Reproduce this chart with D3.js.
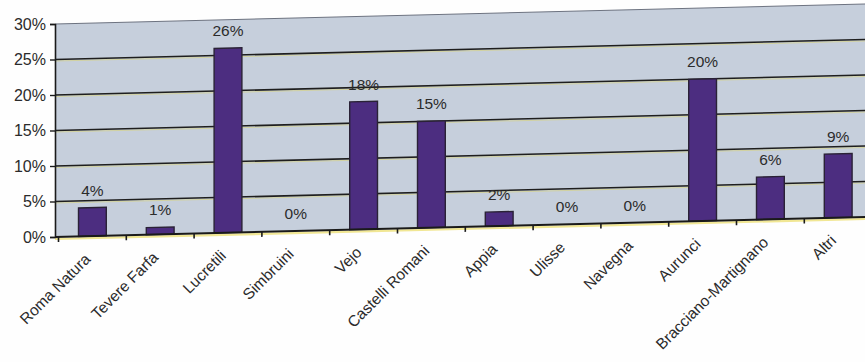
<!DOCTYPE html>
<html>
<head>
<meta charset="utf-8">
<script src="https://cdn.jsdelivr.net/npm/d3@7/dist/d3.min.js"></script>
<style>
  html, body { margin: 0; padding: 0; background: #fefefe; }
  svg { display: block; }
  text { font-family: "Liberation Sans", Arial, sans-serif; fill: #2b2b2b; }
</style>
</head>
<body>
<svg id="chart" width="865" height="362"></svg>
<script>
// Share of visitors by park area
const categories = ["Roma Natura", "Tevere Farfa", "Lucretili", "Simbruini", "Vejo", "Castelli Romani",
                    "Appia", "Ulisse", "Navegna", "Aurunci", "Bracciano-Martignano", "Altri"];
const values = [0.04, 0.01, 0.26, 0, 0.18, 0.15, 0.02, 0, 0, 0.20, 0.06, 0.09];
const valueLabels = ["4%", "1%", "26%", "0%", "18%", "15%", "2%", "0%", "0%", "20%", "6%", "9%"];
const yTicks = [0, 0.05, 0.10, 0.15, 0.20, 0.25, 0.30];

const svg = d3.select("#chart");
const originX = 55, originY = 237;   // bottom-left corner of the plot area
const plotW = 830, plotH = 213;
const slope = -0.0247;                // the whole plot leans slightly upward to the right
const skewDeg = Math.atan(slope) * 180 / Math.PI;

const x = d3.scaleBand().domain(categories).range([3.5, 3.5 + 12 * 67.8]).paddingInner(0).paddingOuter(0);
const y = d3.scaleLinear().domain([0, 0.30]).range([0, -plotH]);

// skewed plot coordinates -> page coordinates
const px = lx => originX + lx;
const py = (lx, ly) => originY + ly + slope * lx;

const plot = svg.append("g")
  .attr("transform", `translate(${originX},${originY}) skewY(${skewDeg})`);

plot.append("rect")
  .attr("x", 0).attr("y", y(0.30))
  .attr("width", plotW).attr("height", plotH)
  .attr("fill", "#c6cfdc");

// gridlines with a faint yellow fringe beneath them
const grid = yTicks.filter(t => t > 0 && t < 0.30);
plot.selectAll("line.fringe").data(grid).join("line")
  .attr("class", "fringe")
  .attr("x1", 0).attr("x2", plotW)
  .attr("y1", d => y(d) + 1.6).attr("y2", d => y(d) + 1.6)
  .attr("stroke", "#d8d487").attr("stroke-width", 1).attr("opacity", 0.7);
plot.selectAll("line.grid").data(grid).join("line")
  .attr("class", "grid")
  .attr("x1", 0).attr("x2", plotW)
  .attr("y1", d => y(d)).attr("y2", d => y(d))
  .attr("stroke", "#1e1e1e").attr("stroke-width", 1.6);

// top border of the plot area
plot.append("line")
  .attr("x1", 0).attr("x2", plotW)
  .attr("y1", y(0.30)).attr("y2", y(0.30))
  .attr("stroke", "#6d7380").attr("stroke-width", 1);

// bars
const barW = x.bandwidth() * 0.41;
plot.selectAll("rect.bar").data(values).join("rect")
  .attr("class", "bar")
  .attr("x", (d, i) => x(categories[i]) + x.bandwidth() / 2 - barW / 2)
  .attr("y", d => y(d))
  .attr("width", barW)
  .attr("height", d => y(0) - y(d))
  .attr("fill", "#4c2d80")
  .attr("stroke", "#2a2236").attr("stroke-width", 1.4);

// category axis with a yellow fringe below
plot.append("line")
  .attr("x1", 0).attr("x2", plotW).attr("y1", 2).attr("y2", 2)
  .attr("stroke", "#efe27a").attr("stroke-width", 2.2).attr("opacity", 0.8);
plot.append("line")
  .attr("x1", 0).attr("x2", plotW).attr("y1", 0).attr("y2", 0)
  .attr("stroke", "#1a1a1a").attr("stroke-width", 2);
plot.selectAll("line.xtick").data(categories).join("line")
  .attr("class", "xtick")
  .attr("x1", d => x(d)).attr("x2", d => x(d))
  .attr("y1", 0).attr("y2", 5)
  .attr("stroke", "#1a1a1a").attr("stroke-width", 1.6);

// value axis
const yAxis = svg.append("g")
  .attr("transform", `translate(${originX},${originY})`)
  .call(d3.axisLeft(y).tickValues(yTicks).tickFormat(d3.format(".0%")).tickSize(5).tickPadding(4));
yAxis.select(".domain").attr("stroke", "#1a1a1a").attr("stroke-width", 1.6);
yAxis.selectAll(".tick line").attr("stroke", "#1a1a1a").attr("stroke-width", 1.4);
yAxis.selectAll(".tick text").attr("font-size", 16).style("fill", "#2b2b2b")
  .attr("font-family", "Liberation Sans, Arial, sans-serif");

// value labels above each bar
svg.selectAll("text.val").data(values).join("text")
  .attr("class", "val")
  .attr("x", (d, i) => px(x(categories[i]) + x.bandwidth() / 2))
  .attr("y", (d, i) => py(x(categories[i]) + x.bandwidth() / 2, y(d)) - 12)
  .attr("text-anchor", "middle")
  .attr("font-size", 15.5)
  .text((d, i) => valueLabels[i]);

// rotated category labels
svg.selectAll("text.cat").data(categories).join("text")
  .attr("class", "cat")
  .attr("transform", d => {
    const cx = x(d) + x.bandwidth() / 2;
    return `translate(${px(cx) - 1},${py(cx, 0) + 24}) rotate(-45)`;
  })
  .attr("text-anchor", "end")
  .attr("font-size", 15.5)
  .text(d => d);
</script>
</body>
</html>
